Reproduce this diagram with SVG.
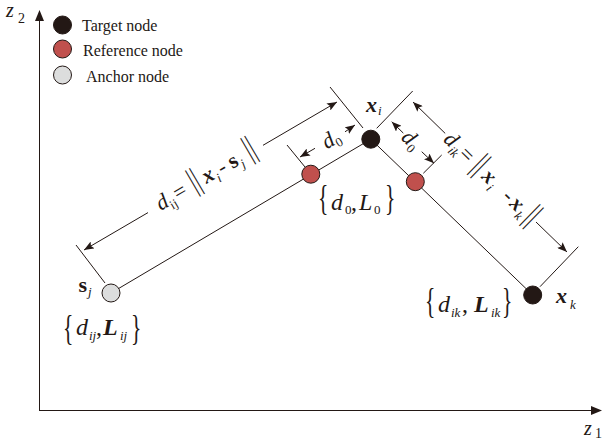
<svg xmlns="http://www.w3.org/2000/svg" width="610" height="440" viewBox="0 0 610 440">
<style>
 .ln{stroke:#231815;stroke-width:1;fill:none}
 .dim{stroke:#231815;stroke-width:1;fill:none;marker-end:url(#ah)}
 .t{font-family:"Liberation Serif",serif;fill:#231815}
 .leg{font-size:16px}
 .m{font-size:22px}
 .m24{font-size:24px}
 .it{font-style:italic}
 .bi{font-style:italic;font-weight:bold}
 .b{font-weight:bold}
 .sub{font-size:13px}
 .nb{stroke:#231815;stroke-width:1}
 .tg{fill:#231815}
 .rf{fill:#C0504D}
 .an{fill:#DCDDDD}
 .bar{font-family:"Noto Sans CJK SC","DejaVu Sans",sans-serif;font-size:30px;font-style:normal;font-weight:normal}
 .br{font-size:36px}
</style>
<defs>
<marker id="ah" viewBox="0 0 10 8" refX="10" refY="4" markerWidth="10" markerHeight="8" markerUnits="userSpaceOnUse" orient="auto"><path d="M0,0 L10,4 L0,8 L2,4 z" fill="#231815"/></marker>
</defs>
<rect width="610" height="440" fill="#fff"/>
<g id="axes">
 <line class="ln" x1="39.5" y1="410.5" x2="39.5" y2="20"/>
 <path d="M39.5,10 L44,21 L35,21 z" fill="#231815"/>
 <line class="ln" x1="39" y1="410.5" x2="592" y2="410.5"/>
 <path d="M602,410.5 L591,406 L591,415 z" fill="#231815"/>
 <text class="t it" x="6" y="17" font-size="20">z</text><text class="t" x="18" y="23" font-size="14">2</text>
 <text class="t it" x="584" y="435" font-size="20">z</text><text class="t" x="595" y="438" font-size="14">1</text>
</g>
<g id="legend">
 <circle class="nb tg" cx="62.5" cy="25" r="9"/>
 <text class="t leg" x="82" y="30.5">Target node</text>
 <circle class="nb rf" cx="62.5" cy="49" r="9"/>
 <text class="t leg" x="83" y="55.5">Reference node</text>
 <circle class="nb an" cx="62.5" cy="75" r="9"/>
 <text class="t leg" x="86" y="81.5">Anchor node</text>
</g>
<g id="connectors">
 <line class="ln" x1="111" y1="293" x2="370.8" y2="139.2"/>
 <line class="ln" x1="370.8" y1="139.2" x2="532.7" y2="295"/>
 <line class="ln" x1="105" y1="283" x2="76" y2="245"/>
 <line class="ln" x1="305" y1="167" x2="287" y2="145"/>
 <line class="ln" x1="363" y1="128" x2="330" y2="87"/>
 <line class="ln" x1="376.7" y1="128.3" x2="412.7" y2="91"/>
 <line class="ln" x1="423.3" y1="173.3" x2="441.7" y2="155"/>
 <line class="ln" x1="540" y1="286.7" x2="578.3" y2="246.7"/>
 <line class="dim" x1="148" y1="212.6" x2="84" y2="250"/>
 <line class="dim" x1="263" y1="145.3" x2="337" y2="102"/>
 <line class="dim" x1="315" y1="148.3" x2="300" y2="157"/>
 <line class="dim" x1="345" y1="131.8" x2="355" y2="125"/>
 <line class="dim" x1="403.3" y1="133.1" x2="391.7" y2="121.7"/>
 <line class="dim" x1="421.7" y1="151.7" x2="434" y2="163.3"/>
 <line class="dim" x1="445.2" y1="133.4" x2="413" y2="102"/>
 <line class="dim" x1="536" y1="222" x2="567" y2="252"/>
</g>
<g id="label-dij" transform="translate(84,250) rotate(-30.33)">
 <text class="t m"><tspan class="it" x="86" y="5">d</tspan><tspan class="sub" x="97" y="10">ij</tspan><tspan x="106" y="5">=</tspan><tspan class="bar" x="115" y="9">‖</tspan><tspan class="bi" x="139" y="5">x</tspan><tspan class="sub it" x="151" y="10">i</tspan><tspan x="157" y="5">-</tspan><tspan class="b" x="169" y="5">s</tspan><tspan class="sub it" x="179" y="10">j</tspan><tspan class="bar" x="179" y="9">‖</tspan></text>
</g>
<g id="label-dik" transform="translate(413,102) rotate(44.25)">
 <text class="t m"><tspan class="it" x="48" y="7">d</tspan><tspan class="sub it" x="59" y="12">ik</tspan><tspan x="69" y="7">=</tspan><tspan class="bar" x="77" y="11">‖</tspan><tspan class="bi" x="101" y="7">x</tspan><tspan class="sub it" x="113" y="12">i</tspan><tspan x="130" y="7">-</tspan><tspan class="bi" x="140" y="7">x</tspan><tspan class="sub it" x="152" y="12">k</tspan><tspan class="bar" x="150" y="11">‖</tspan></text>
</g>
<g id="label-d0-left" transform="translate(300,157) rotate(-30.2)">
 <text class="t m"><tspan class="it" x="27" y="7">d</tspan><tspan class="sub" x="38" y="11">0</tspan></text>
</g>
<g id="label-d0-right" transform="translate(391.7,121.7) rotate(44.5)">
 <text class="t m"><tspan class="it" x="18" y="6">d</tspan><tspan class="sub" x="29" y="10">0</tspan></text>
</g>
<g id="node-xi">
 <circle class="nb tg" cx="370.8" cy="139.2" r="9"/>
 <text class="t m"><tspan class="bi" x="366" y="112">x</tspan><tspan class="sub it" x="378" y="115">i</tspan></text>
</g>
<g id="node-ref-left">
 <circle class="nb rf" cx="310.8" cy="174.2" r="9"/>
 <text class="t br" transform="translate(318,210) scale(0.6,1)">{</text>
 <text class="t m24"><tspan class="it" x="331" y="210">d</tspan><tspan class="sub" x="345" y="214">0</tspan><tspan x="351" y="210">,</tspan><tspan class="it" x="359" y="210">L</tspan><tspan class="sub" x="374" y="214">0</tspan></text>
 <text class="t br" transform="translate(385,210) scale(0.6,1)">}</text>
</g>
<g id="node-ref-right">
 <circle class="nb rf" cx="415.3" cy="181.7" r="9"/>
</g>
<g id="node-sj">
 <circle class="nb an" cx="111" cy="293" r="9"/>
 <text class="t m"><tspan class="b" x="78.5" y="292">s</tspan><tspan class="sub it" x="88" y="296">j</tspan></text>
 <text class="t br" transform="translate(63,340) scale(0.6,1)">{</text>
 <text class="t m24"><tspan class="it" x="76" y="335">d</tspan><tspan class="sub it" x="89" y="340">ij</tspan><tspan x="96" y="335">,</tspan><tspan class="bi" x="103" y="335">L</tspan><tspan class="sub it" x="120" y="340">ij</tspan></text>
 <text class="t br" transform="translate(131,340) scale(0.6,1)">}</text>
</g>
<g id="node-xk">
 <circle class="nb tg" cx="532.7" cy="295" r="9"/>
 <text class="t m"><tspan class="bi" x="556" y="303">x</tspan><tspan class="sub it" x="570" y="309">k</tspan></text>
 <text class="t br" transform="translate(425,313) scale(0.6,1)">{</text>
 <text class="t m24"><tspan class="it" x="438" y="312">d</tspan><tspan class="sub it" x="451" y="317">ik</tspan><tspan x="462" y="312">,</tspan><tspan class="bi" x="474" y="312">L</tspan><tspan class="sub it" x="491" y="317">ik</tspan></text>
 <text class="t br" transform="translate(502,313) scale(0.6,1)">}</text>
</g>
</svg>
